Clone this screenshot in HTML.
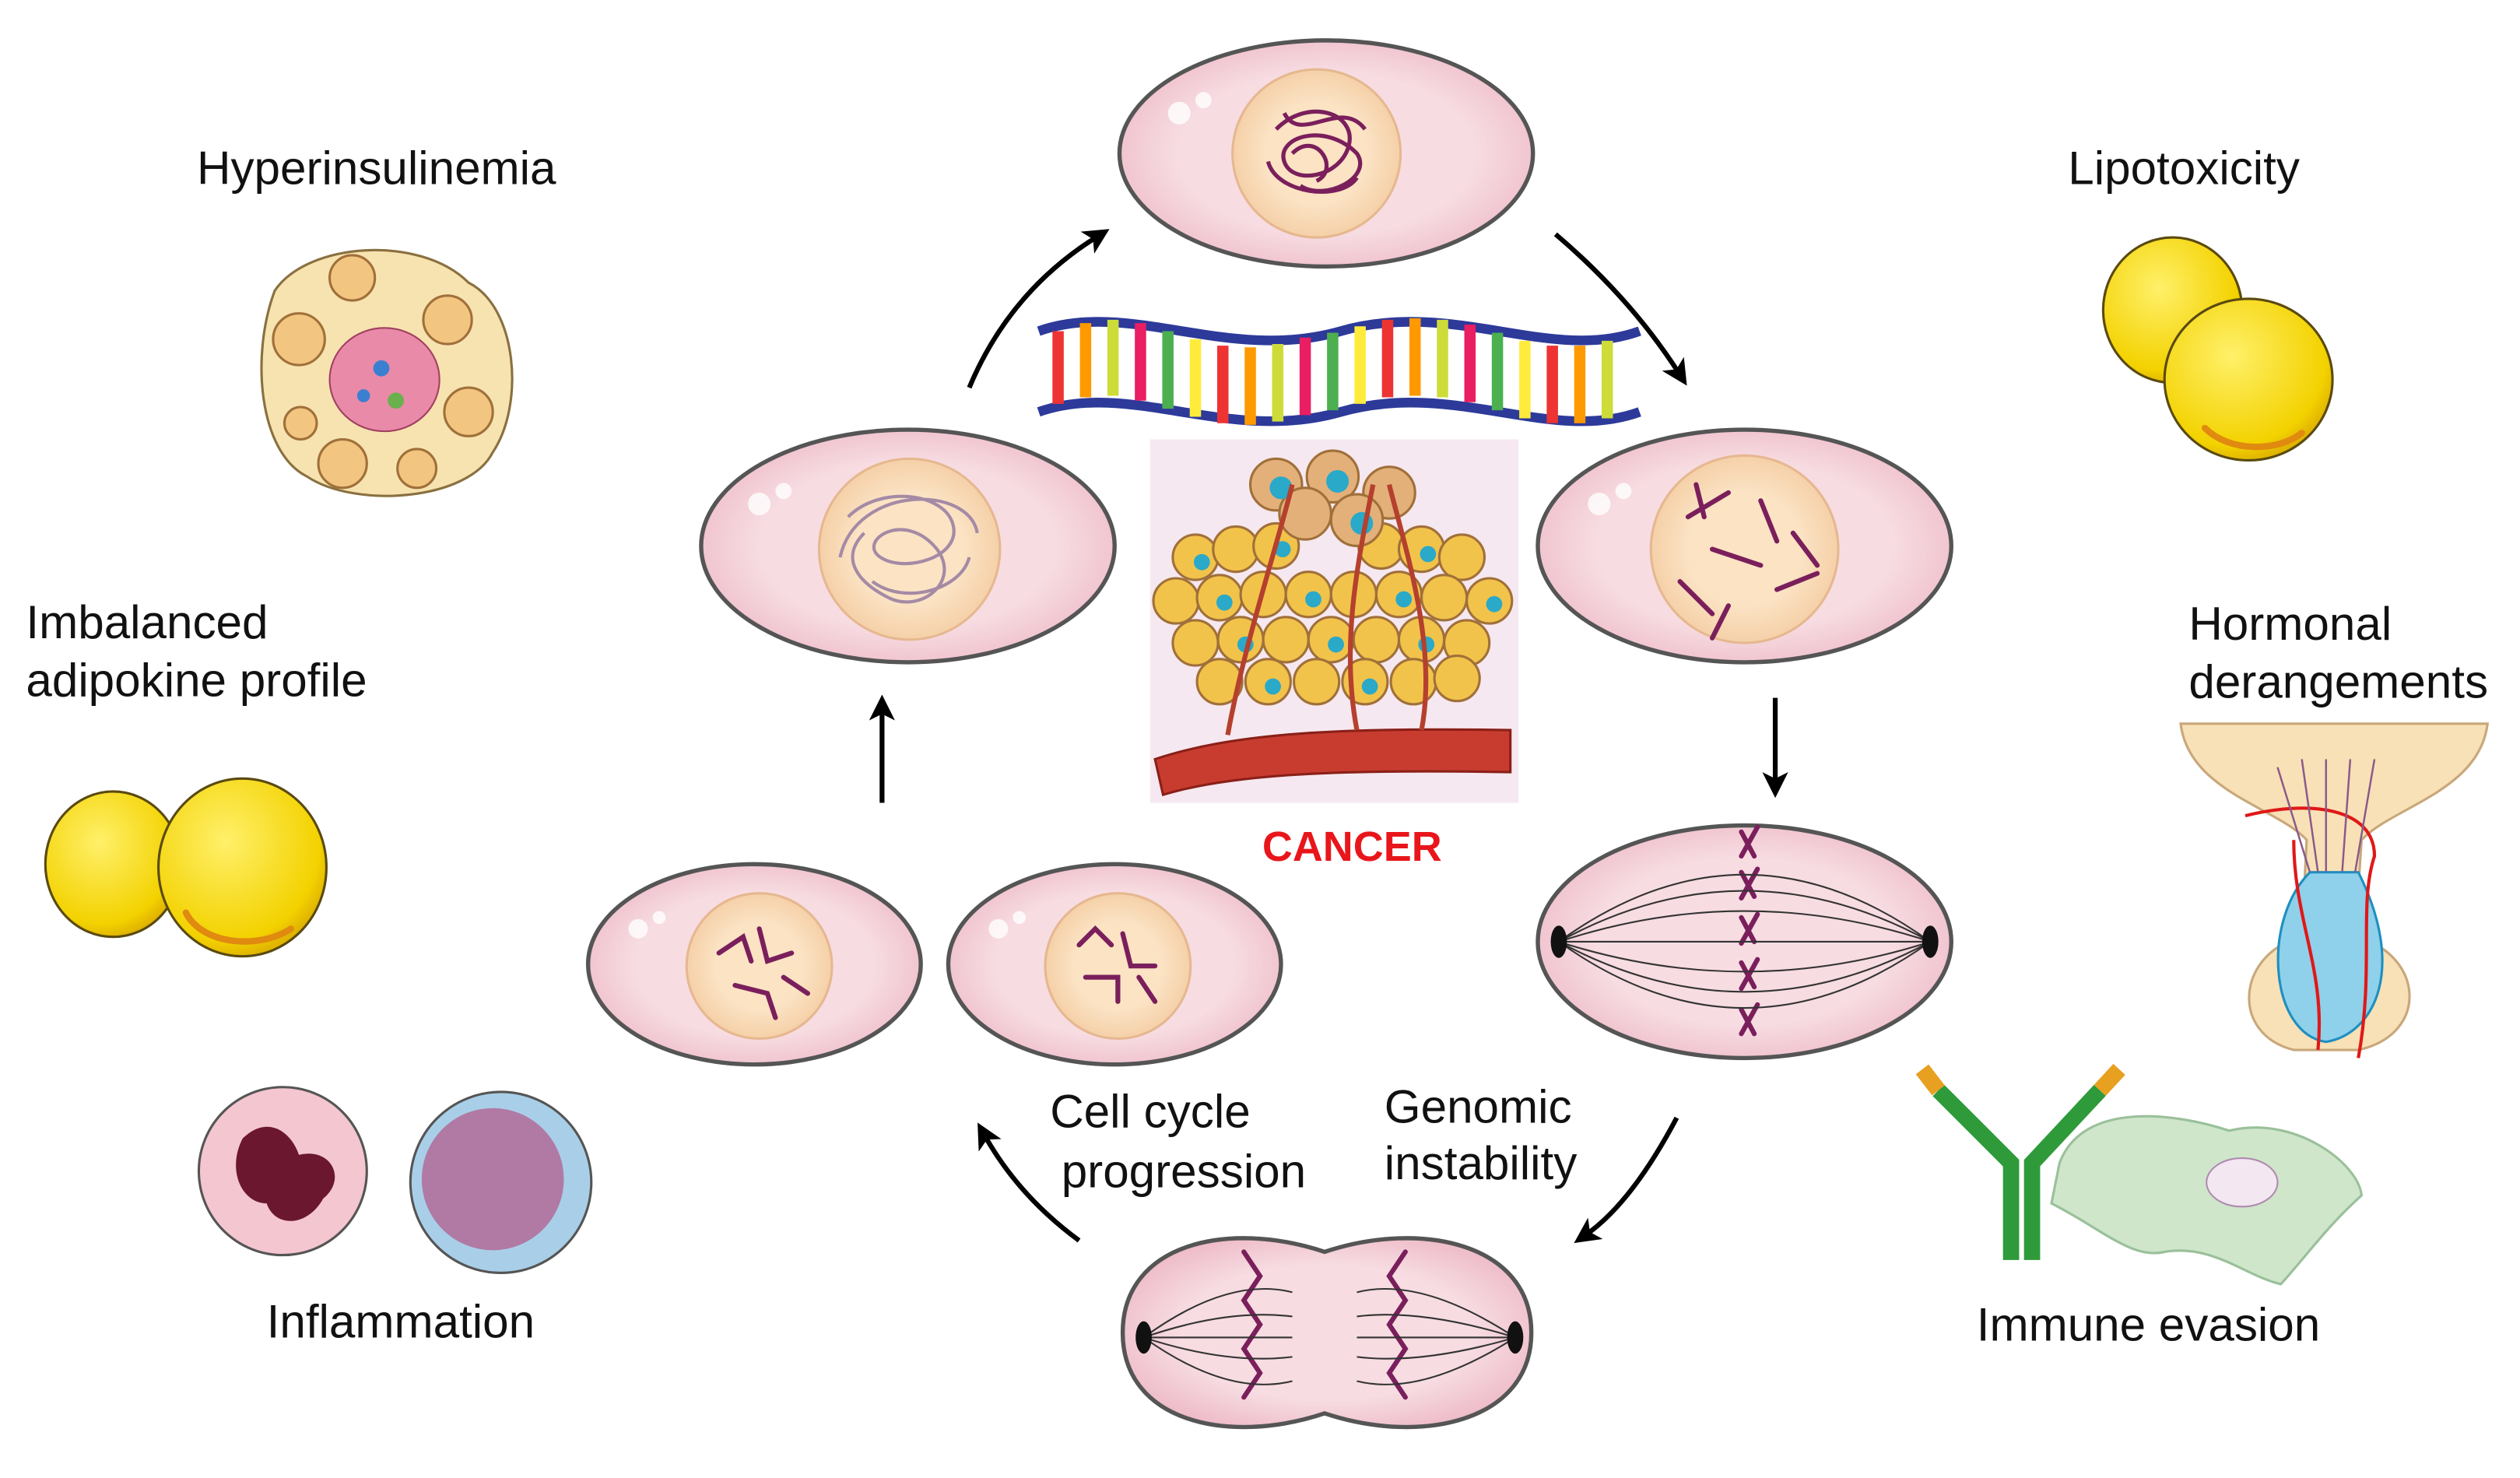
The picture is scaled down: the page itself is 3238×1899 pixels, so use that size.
<!DOCTYPE html>
<html><head><meta charset="utf-8"><style>
html,body{margin:0;padding:0;background:#fff;}
svg{display:block;}
text{font-family:"Liberation Sans",sans-serif;fill:#111;}
</style></head><body>
<svg width="3238" height="1899" viewBox="0 0 1560 915" xmlns="http://www.w3.org/2000/svg">
<defs>
<marker id="ah" markerWidth="16" markerHeight="16" refX="8" refY="8" orient="auto" markerUnits="userSpaceOnUse" viewBox="0 0 16 16">
<path d="M0,0 L16,8 L0,16 L4,8 Z" fill="#000"/></marker>
<radialGradient id="cellg" cx="0.5" cy="0.5" r="0.6"><stop offset="0.6" stop-color="#f7dce2"/><stop offset="1" stop-color="#ecb5c3"/></radialGradient>
<radialGradient id="nucg" cx="0.5" cy="0.5" r="0.6"><stop offset="0.5" stop-color="#fbe3c4"/><stop offset="1" stop-color="#f2c79a"/></radialGradient>
<radialGradient id="yel" cx="0.4" cy="0.35" r="0.7"><stop offset="0" stop-color="#fff06a"/><stop offset="0.8" stop-color="#f3d200"/><stop offset="1" stop-color="#d9a800"/></radialGradient>
</defs>

<g stroke="#555" stroke-width="2.6">
<ellipse cx="821" cy="95" rx="128" ry="70" fill="url(#cellg)"/>
<ellipse cx="562" cy="338" rx="128" ry="72" fill="url(#cellg)"/>
<ellipse cx="1080" cy="338" rx="128" ry="72" fill="url(#cellg)"/>
<ellipse cx="1080" cy="583" rx="128" ry="72" fill="url(#cellg)"/>
<path d="M695,825 C695,770 760,755 820,775 C880,755 948,770 948,825 C948,880 880,895 820,875 C760,895 695,880 695,825Z" fill="url(#cellg)"/>
<ellipse cx="467" cy="597" rx="103" ry="62" fill="url(#cellg)"/>
<ellipse cx="690" cy="597" rx="103" ry="62" fill="url(#cellg)"/>
</g>
<g fill="#fff" opacity="0.8">
<circle cx="730" cy="70" r="7"/><circle cx="745" cy="62" r="5"/>
<circle cx="470" cy="312" r="7"/><circle cx="485" cy="304" r="5"/>
<circle cx="990" cy="312" r="7"/><circle cx="1005" cy="304" r="5"/>
<circle cx="395" cy="575" r="6"/><circle cx="408" cy="568" r="4"/>
<circle cx="618" cy="575" r="6"/><circle cx="631" cy="568" r="4"/>
</g>
<g stroke="#e6b890" stroke-width="1.5" fill="url(#nucg)">
<circle cx="815" cy="95" r="52"/>
<circle cx="563" cy="340" r="56"/>
<circle cx="1080" cy="340" r="58"/>
<circle cx="470" cy="598" r="45"/>
<circle cx="692" cy="598" r="45"/>
</g>
<g fill="none" stroke="#7a1f5c" stroke-width="2.5">
<path d="M790,80 C810,60 840,70 835,90 C830,110 800,115 795,100 C790,85 820,75 840,95 C850,110 820,125 805,115 M800,95 C815,80 830,105 815,112 M785,100 C790,120 830,125 840,110 M795,70 C805,90 830,60 845,80"/>
</g>
<g fill="none" stroke="#a58aa5" stroke-width="2">
<path d="M525,320 C545,300 585,305 590,325 C595,345 560,355 545,345 C530,335 560,315 580,340 C595,360 570,380 550,370 C530,360 520,345 535,330 M540,360 C560,375 595,365 600,345 M520,345 C530,300 600,300 605,330"/>
</g>
<g fill="none" stroke="#7a1f5c" stroke-width="3" stroke-linecap="round">
<path d="M1045,320 l25,-15 M1060,340 l30,10 M1040,360 l20,20 M1090,310 l10,25 M1100,365 l25,-10 M1070,375 l-10,20 M1110,330 l15,20 M1050,300 l5,20"/>
<path d="M445,590 l15,-10 l5,15 M470,575 l5,20 l15,-5 M455,610 l20,5 l5,15 M485,605 l15,10"/>
<path d="M668,585 l10,-10 l10,10 M695,578 l5,20 l15,0 M672,605 l20,0 l0,15 M705,605 l10,15"/>
<path d="M1078,515 l8,15 M1088,512 l-10,18 M1078,540 l8,15 M1088,538 l-10,18 M1078,568 l8,15 M1088,566 l-10,18 M1078,596 l8,15 M1088,594 l-10,18 M1078,625 l8,15 M1088,622 l-10,18"/>
<path d="M770,775 l10,15 l-10,15 l10,15 l-10,15 l10,15 l-10,15 M870,775 l-10,15 l10,15 l-10,15 l10,15 l-10,15 l10,15"/>
</g>
<g fill="none" stroke="#333" stroke-width="1">
<path d="M965,583 Q1080,520 1195,583 M965,583 Q1080,545 1195,583 M965,583 L1195,583 M965,583 Q1080,620 1195,583 M965,583 Q1080,645 1195,583 M965,583 Q1080,500 1195,583 M965,583 Q1080,665 1195,583"/>
<path d="M708,828 Q760,790 800,800 M708,828 Q760,810 800,815 M708,828 L800,828 M708,828 Q760,845 800,840 M708,828 Q760,865 800,855 M938,828 Q880,790 840,800 M938,828 Q880,810 840,815 M938,828 L840,828 M938,828 Q880,845 840,840 M938,828 Q880,865 840,855"/>
</g>
<g fill="#111"><ellipse cx="965" cy="583" rx="5" ry="10"/><ellipse cx="1195" cy="583" rx="5" ry="10"/><ellipse cx="708" cy="828" rx="5" ry="10"/><ellipse cx="938" cy="828" rx="5" ry="10"/></g>

<g fill="none" stroke="#000" stroke-width="3" marker-end="url(#ah)">
<path d="M600,240 Q625,180 680,146"/>
<path d="M963,145 Q1010,185 1040,232"/>
<path d="M1099,432 L1099,486"/>
<path d="M1038,692 Q1010,745 981,765"/>
<path d="M668,768 Q630,740 609,702"/>
<path d="M546,497 L546,438"/>
</g>

<g>
<path d="M643,205 C700,185 760,225 830,205 C900,185 960,225 1015,205" fill="none" stroke="#2d3a9a" stroke-width="6"/>
<path d="M643,255 C700,235 760,275 830,255 C900,235 960,275 1015,255" fill="none" stroke="#2d3a9a" stroke-width="6"/>
<g stroke-width="7">
<line x1="655" y1="205" x2="655" y2="250" stroke="#e33"/><line x1="672" y1="200" x2="672" y2="246" stroke="#f90"/>
<line x1="689" y1="198" x2="689" y2="245" stroke="#cddc39"/><line x1="706" y1="200" x2="706" y2="248" stroke="#e91e63"/>
<line x1="723" y1="205" x2="723" y2="253" stroke="#4caf50"/><line x1="740" y1="210" x2="740" y2="258" stroke="#ffeb3b"/>
<line x1="757" y1="214" x2="757" y2="262" stroke="#e33"/><line x1="774" y1="215" x2="774" y2="263" stroke="#f90"/>
<line x1="791" y1="213" x2="791" y2="261" stroke="#cddc39"/><line x1="808" y1="209" x2="808" y2="257" stroke="#e91e63"/>
<line x1="825" y1="206" x2="825" y2="254" stroke="#4caf50"/><line x1="842" y1="202" x2="842" y2="250" stroke="#ffeb3b"/>
<line x1="859" y1="198" x2="859" y2="246" stroke="#e33"/><line x1="876" y1="197" x2="876" y2="245" stroke="#f90"/>
<line x1="893" y1="198" x2="893" y2="246" stroke="#cddc39"/><line x1="910" y1="201" x2="910" y2="249" stroke="#e91e63"/>
<line x1="927" y1="206" x2="927" y2="254" stroke="#4caf50"/><line x1="944" y1="211" x2="944" y2="259" stroke="#ffeb3b"/>
<line x1="961" y1="214" x2="961" y2="262" stroke="#e33"/><line x1="978" y1="214" x2="978" y2="262" stroke="#f90"/>
<line x1="995" y1="211" x2="995" y2="259" stroke="#cddc39"/>
</g></g>

<rect x="712" y="272" width="228" height="225" fill="#f6e8f0"/>
<g stroke="#a0703a" stroke-width="1.5" fill="#f2c34a">
<circle cx="740" cy="345" r="14"/><circle cx="765" cy="340" r="14"/><circle cx="790" cy="338" r="14"/><circle cx="855" cy="338" r="14"/><circle cx="880" cy="340" r="14"/><circle cx="905" cy="345" r="14"/>
<circle cx="728" cy="372" r="14"/><circle cx="755" cy="370" r="14"/><circle cx="782" cy="368" r="14"/><circle cx="810" cy="368" r="14"/><circle cx="838" cy="368" r="14"/><circle cx="866" cy="368" r="14"/><circle cx="894" cy="370" r="14"/><circle cx="922" cy="372" r="14"/>
<circle cx="740" cy="398" r="14"/><circle cx="768" cy="396" r="14"/><circle cx="796" cy="396" r="14"/><circle cx="824" cy="396" r="14"/><circle cx="852" cy="396" r="14"/><circle cx="880" cy="396" r="14"/><circle cx="908" cy="398" r="14"/>
<circle cx="755" cy="422" r="14"/><circle cx="785" cy="422" r="14"/><circle cx="815" cy="422" r="14"/><circle cx="845" cy="422" r="14"/><circle cx="875" cy="422" r="14"/><circle cx="902" cy="420" r="14"/>
<circle cx="790" cy="300" r="16" fill="#e4b07a"/><circle cx="825" cy="295" r="16" fill="#e4b07a"/><circle cx="860" cy="305" r="16" fill="#e4b07a"/><circle cx="808" cy="318" r="16" fill="#e4b07a"/><circle cx="840" cy="322" r="16" fill="#e4b07a"/>
</g>
<g fill="#2aa9c9">
<circle cx="744" cy="348" r="5"/><circle cx="794" cy="340" r="5"/><circle cx="884" cy="343" r="5"/><circle cx="758" cy="373" r="5"/><circle cx="813" cy="371" r="5"/><circle cx="869" cy="371" r="5"/><circle cx="925" cy="374" r="5"/><circle cx="771" cy="399" r="5"/><circle cx="827" cy="399" r="5"/><circle cx="883" cy="399" r="5"/><circle cx="788" cy="425" r="5"/><circle cx="848" cy="425" r="5"/><circle cx="828" cy="298" r="7"/><circle cx="843" cy="324" r="7"/><circle cx="793" cy="302" r="7"/>
</g>
<path d="M715,470 C760,455 820,450 935,452 L935,478 C820,476 760,480 720,492 Z" fill="#c83c30" stroke="#8a2018" stroke-width="1.5"/>
<g fill="none" stroke="#b5402e" stroke-width="3">
<path d="M760,455 C770,400 790,340 800,300 M840,452 C830,400 840,350 850,300 M880,452 C890,400 870,340 860,300"/></g>
<text x="837" y="533" text-anchor="middle" font-size="26" font-weight="bold" style="fill:#e8161b">CANCER</text>

<g font-size="29">
<text x="233" y="114" text-anchor="middle">Hyperinsulinemia</text>
<text x="1352" y="114" text-anchor="middle">Lipotoxicity</text>
<text x="16" y="395">Imbalanced</text>
<text x="16" y="431">adipokine profile</text>
<text x="1355" y="396">Hormonal</text>
<text x="1355" y="432">derangements</text>
<text x="248" y="828" text-anchor="middle">Inflammation</text>
<text x="1330" y="830" text-anchor="middle">Immune evasion</text>
<text x="650" y="698">Cell cycle</text>
<text x="657" y="735">progression</text>
<text x="857" y="695">Genomic</text>
<text x="857" y="730">instability</text>
</g>

<path d="M170,180 C190,150 260,145 290,175 C320,190 325,250 305,280 C290,310 220,315 190,295 C160,280 155,220 170,180Z" fill="#f7e3b0" stroke="#8a7040" stroke-width="1.5"/>
<g fill="#f2c680" stroke="#a0703a" stroke-width="1.5">
<circle cx="185" cy="210" r="16"/><circle cx="218" cy="172" r="14"/><circle cx="277" cy="198" r="15"/><circle cx="290" cy="255" r="15"/><circle cx="212" cy="287" r="15"/><circle cx="258" cy="290" r="12"/><circle cx="186" cy="262" r="10"/>
</g>
<ellipse cx="238" cy="235" rx="34" ry="32" fill="#e88aa8" stroke="#a04060"/>
<circle cx="236" cy="228" r="5" fill="#3a7fd0"/><circle cx="245" cy="248" r="5" fill="#6ab04c"/><circle cx="225" cy="245" r="4" fill="#3a7fd0"/>

<g stroke="#5a4a10" stroke-width="1.5" fill="url(#yel)">
<ellipse cx="70" cy="535" rx="42" ry="45"/>
<ellipse cx="150" cy="537" rx="52" ry="55"/>
<ellipse cx="1345" cy="192" rx="43" ry="45"/>
<ellipse cx="1392" cy="235" rx="52" ry="50"/>
</g>
<g fill="none" stroke="#e08a10" stroke-width="4" stroke-linecap="round">
<path d="M115,565 C125,585 160,588 180,575"/><path d="M1365,265 C1380,280 1410,280 1425,268"/>
</g>

<circle cx="175" cy="725" r="52" fill="#f4c6d0" stroke="#555" stroke-width="1.5"/>
<path d="M150,705 C165,690 180,700 185,715 C205,710 215,730 200,742 C190,760 170,760 165,745 C150,745 140,725 150,705Z" fill="#6b1730"/>
<circle cx="310" cy="732" r="56" fill="#a9cfe8" stroke="#555" stroke-width="1.5"/>
<circle cx="305" cy="730" r="44" fill="#b07aa5"/>

<path d="M1350,448 L1540,448 C1535,490 1480,500 1462,520 L1458,580 C1500,590 1505,640 1460,650 L1420,650 C1380,640 1385,590 1425,580 L1428,520 C1410,500 1355,490 1350,448Z" fill="#f8e1b6" stroke="#c9a77a" stroke-width="1.5"/>
<path d="M1430,540 C1400,570 1405,640 1440,645 C1470,640 1490,600 1460,540Z" fill="#8fd0ea" stroke="#1e8fc0" stroke-width="1.5"/>
<g fill="none" stroke="#e01818" stroke-width="2"><path d="M1390,505 C1430,495 1470,500 1470,530 C1460,560 1470,600 1460,655 M1420,520 C1420,570 1440,600 1435,650"/></g>
<g stroke="#8a5a8a" stroke-width="1.2"><path d="M1440,470 L1440,540 M1455,470 L1450,540 M1470,470 L1458,540 M1425,470 L1435,540 M1410,475 L1430,540"/></g>

<g stroke-width="10" stroke-linecap="butt" fill="none">
<path d="M1245,780 L1245,720 L1200,675" stroke="#2e9a3a"/>
<path d="M1258,780 L1258,720 L1300,675" stroke="#2e9a3a"/>
<path d="M1200,675 L1190,662" stroke="#e8a020"/>
<path d="M1300,675 L1312,662" stroke="#e8a020"/>
</g>
<path d="M1275,720 C1290,680 1350,690 1380,700 C1420,690 1460,720 1462,740 C1440,760 1430,775 1412,795 C1390,790 1370,770 1340,775 C1320,780 1300,760 1270,745Z" fill="#cfe6cb" stroke="#9ac09a" stroke-width="1.5"/>
<ellipse cx="1388" cy="732" rx="22" ry="15" fill="#f3e7f1" stroke="#b08ab0"/>
</svg>
</body></html>
